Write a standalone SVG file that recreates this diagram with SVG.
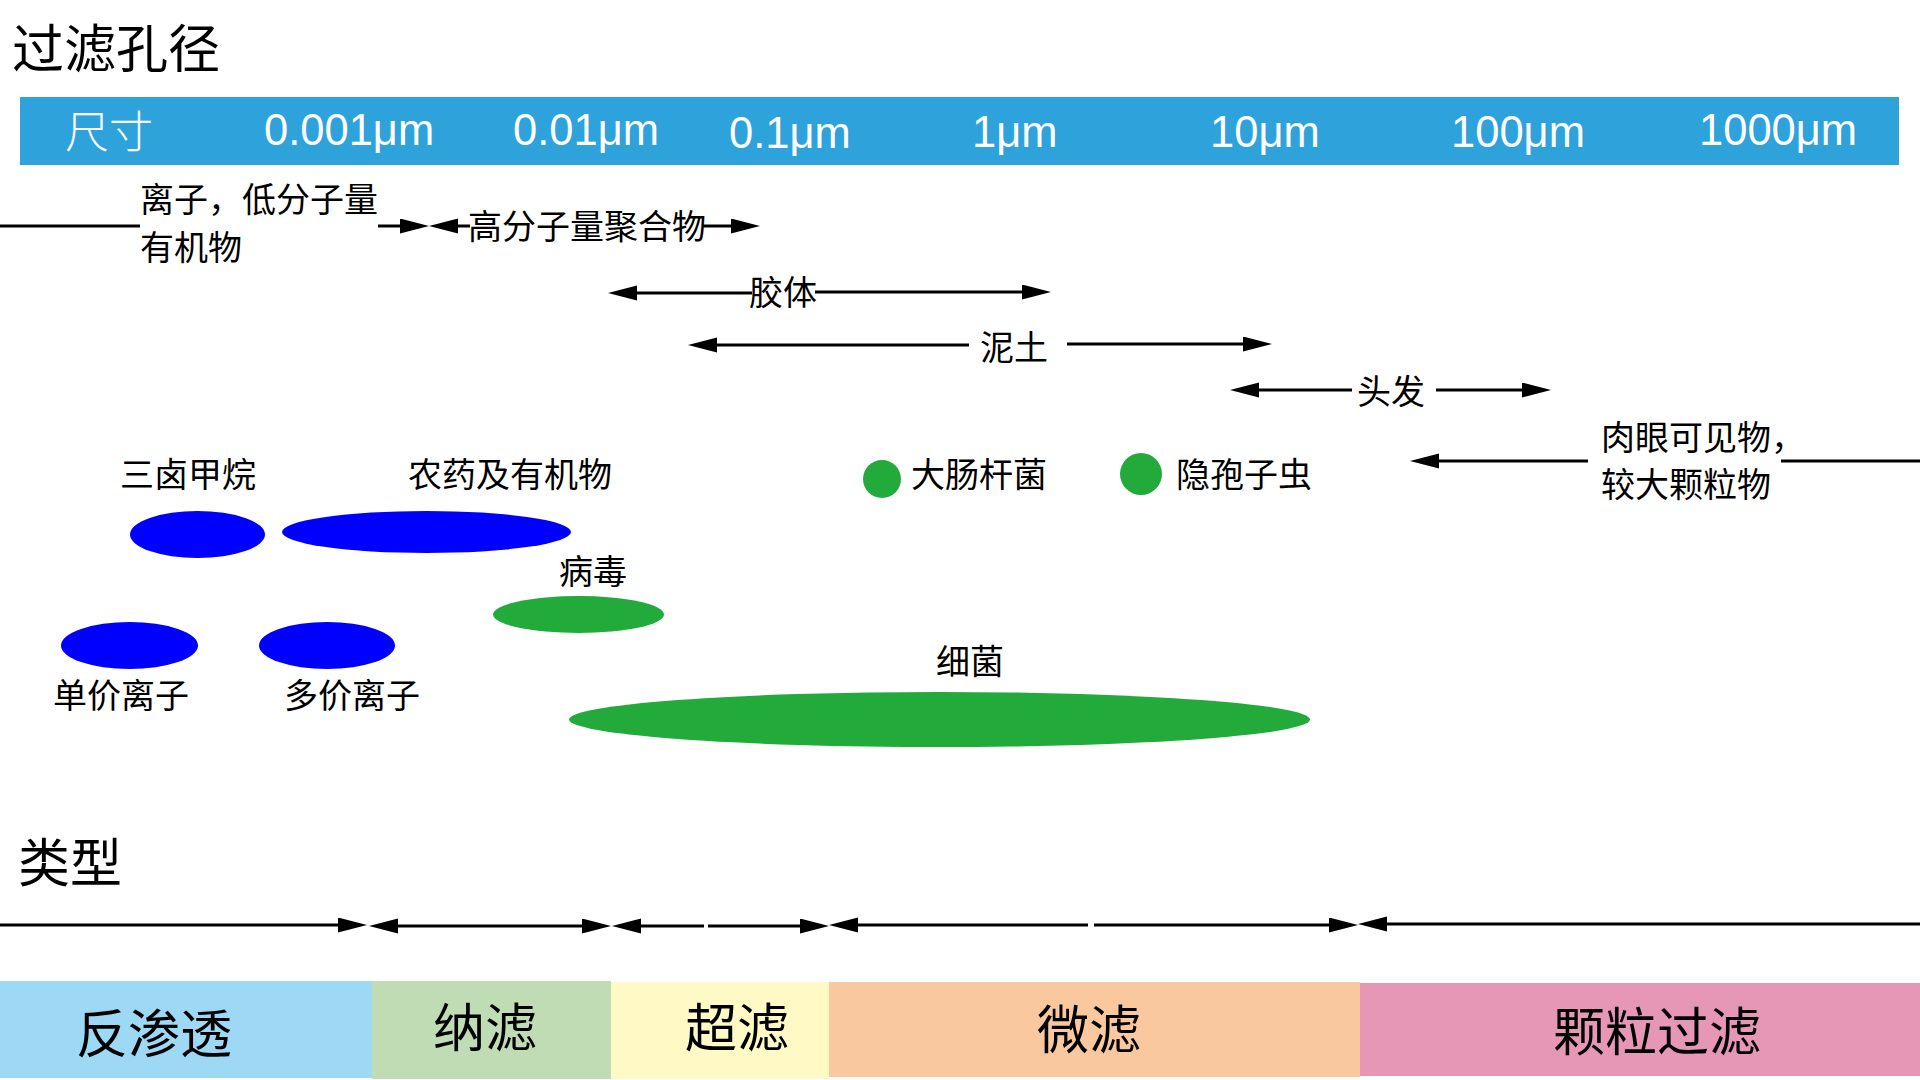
<svg xmlns="http://www.w3.org/2000/svg" width="1920" height="1080" viewBox="0 0 1920 1080">
<style>
.t{font-family:"Noto Sans CJK SC","Liberation Sans",sans-serif;fill:#000}
.s34{font-size:34px}
.h{font-size:52px}
.big{font-size:52px}
.w{font-family:"Liberation Sans","Noto Sans CJK SC",sans-serif;font-size:43.5px;fill:#fff}
.ln{stroke:#000;stroke-width:3;fill:none}
.blue{fill:#0000FF}
.green{fill:#22AA3B}
</style>
<defs>
<marker id="ah" markerUnits="userSpaceOnUse" markerWidth="30" markerHeight="16" refX="0" refY="7.5" orient="auto-start-reverse" viewBox="0 0 30 16">
<path d="M0,0 L29,7.5 L0,15 z" fill="#000"/>
</marker>
</defs>
<rect width="1920" height="1080" fill="#fff"/>

<g id="title"><text class="t h" x="12" y="68">过滤孔径</text></g>

<g id="scale-bar">
<rect x="20" y="97" width="1879" height="68" fill="#2EA2DB"/>
<text x="65" y="148" style="font-family:'Noto Sans CJK SC',sans-serif;font-size:44px;font-weight:300;fill:#fff">尺寸</text>
<text class="w" x="264" y="145">0.001μm</text>
<text class="w" x="513" y="145">0.01μm</text>
<text class="w" x="729" y="148">0.1μm</text>
<text class="w" x="972" y="147">1μm</text>
<text class="w" x="1210" y="147">10μm</text>
<text class="w" x="1451" y="147">100μm</text>
<text class="w" x="1699" y="145">1000μm</text>
</g>

<g id="connectors">
<line class="ln" x1="0" y1="226" x2="140" y2="226"/>
<line class="ln" x1="378" y1="226" x2="400" y2="226" marker-end="url(#ah)"/>
<line class="ln" x1="458" y1="226" x2="470" y2="226" marker-start="url(#ah)"/>
<line class="ln" x1="702" y1="226" x2="731" y2="226" marker-end="url(#ah)"/>

<line class="ln" x1="637" y1="293" x2="752" y2="293" marker-start="url(#ah)"/>
<line class="ln" x1="815" y1="292" x2="1022" y2="292" marker-end="url(#ah)"/>

<line class="ln" x1="717" y1="345" x2="969" y2="345" marker-start="url(#ah)"/>
<line class="ln" x1="1067" y1="344" x2="1243" y2="344" marker-end="url(#ah)"/>

<line class="ln" x1="1259" y1="390" x2="1352" y2="390" marker-start="url(#ah)"/>
<line class="ln" x1="1436" y1="390" x2="1522" y2="390" marker-end="url(#ah)"/>

<line class="ln" x1="1439" y1="461" x2="1588" y2="461" marker-start="url(#ah)"/>
<line class="ln" x1="1781" y1="461" x2="1920" y2="461"/>

<line class="ln" x1="0" y1="925" x2="338" y2="925" marker-end="url(#ah)"/>
<line class="ln" x1="398" y1="926" x2="582" y2="926" marker-start="url(#ah)" marker-end="url(#ah)"/>
<line class="ln" x1="641" y1="926" x2="704" y2="926" marker-start="url(#ah)"/>
<line class="ln" x1="708" y1="926" x2="800" y2="926" marker-end="url(#ah)"/>
<line class="ln" x1="858" y1="925" x2="1088" y2="925" marker-start="url(#ah)"/>
<line class="ln" x1="1094" y1="925" x2="1329" y2="925" marker-end="url(#ah)"/>
<line class="ln" x1="1387" y1="924" x2="1920" y2="924" marker-start="url(#ah)"/>
</g>

<g id="ions-lowmw"><text class="t s34" x="140" y="212">离子，低分子量</text><text class="t s34" x="140" y="260">有机物</text></g>
<g id="polymers"><text class="t s34" x="468" y="239">高分子量聚合物</text></g>
<g id="colloid"><text class="t s34" x="749" y="305">胶体</text></g>
<g id="soil"><text class="t s34" x="980" y="360">泥土</text></g>
<g id="hair"><text class="t s34" x="1357" y="404">头发</text></g>
<g id="visible"><text class="t s34" x="1601" y="450">肉眼可见物，</text><text class="t s34" x="1601" y="497">较大颗粒物</text></g>

<g id="thm"><text class="t s34" x="120" y="487">三卤甲烷</text><ellipse class="blue" cx="197.5" cy="534.5" rx="67.5" ry="23.5"/></g>
<g id="pesticides"><text class="t s34" x="408" y="487">农药及有机物</text><ellipse class="blue" cx="426.5" cy="532" rx="144.5" ry="21"/></g>
<g id="ecoli"><ellipse class="green" cx="882" cy="479" rx="19" ry="19"/><text class="t s34" x="911" y="487">大肠杆菌</text></g>
<g id="crypto"><ellipse class="green" cx="1141" cy="474" rx="21" ry="21"/><text class="t s34" x="1176" y="487">隐孢子虫</text></g>
<g id="virus"><text class="t s34" x="559" y="584">病毒</text><ellipse class="green" cx="578.5" cy="614.5" rx="85.5" ry="18.5"/></g>
<g id="monovalent"><ellipse class="blue" cx="129.5" cy="645.5" rx="68.5" ry="23.5"/><text class="t s34" x="53" y="708">单价离子</text></g>
<g id="multivalent"><ellipse class="blue" cx="327" cy="645.5" rx="68" ry="23.5"/><text class="t s34" x="284" y="708">多价离子</text></g>
<g id="bacteria"><text class="t s34" x="936" y="674">细菌</text><ellipse class="green" cx="939.5" cy="719.5" rx="370.5" ry="27.5"/></g>

<g id="type-title"><text class="t h" x="18" y="882">类型</text></g>

<g id="ro"><rect x="0" y="981" width="372" height="97" fill="#9DD8F5"/><text class="t big" x="76" y="1053">反渗透</text></g>
<g id="nf"><rect x="372" y="981" width="239" height="98" fill="#BFDCB4"/><text class="t big" x="433" y="1047">纳滤</text></g>
<g id="uf"><rect x="611" y="982" width="218" height="97" fill="#FFF9C5"/><text class="t big" x="685" y="1047">超滤</text></g>
<g id="mf"><rect x="829" y="982" width="531" height="95" fill="#FAC89F"/><text class="t big" x="1037" y="1049">微滤</text></g>
<g id="pf"><rect x="1360" y="983" width="560" height="93" fill="#E597B5"/><text class="t big" x="1553" y="1051">颗粒过滤</text></g>
</svg>
